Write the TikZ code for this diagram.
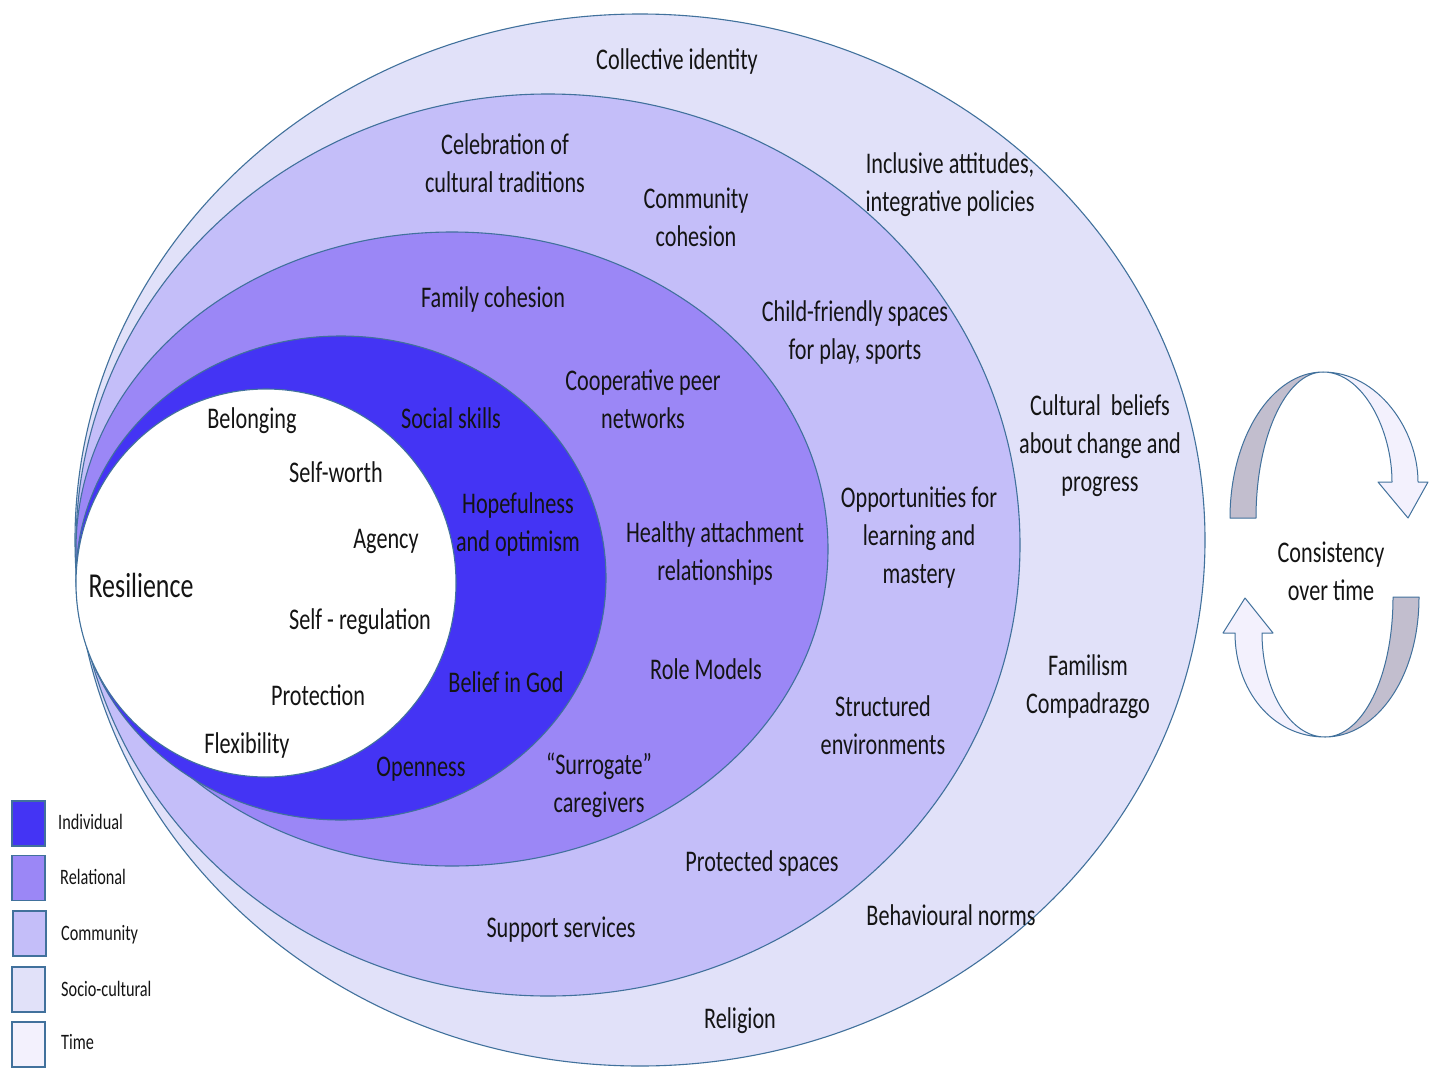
\documentclass[tikz,border=0pt]{standalone}
\usepackage{fontspec}
\setmainfont{Carlito}[FakeStretch=0.74]
\definecolor{indiv}{RGB}{68,52,244}
\definecolor{relat}{RGB}{155,135,246}
\definecolor{commu}{RGB}{196,190,249}
\definecolor{socio}{RGB}{225,225,249}
\definecolor{timec}{RGB}{243,241,253}
\definecolor{edge}{RGB}{65,113,156}
\definecolor{twist}{RGB}{194,190,206}
\definecolor{ink}{RGB}{20,20,20}

\begin{document}
\begin{tikzpicture}[x=1pt,y=-1pt,
  ring/.style={draw=edge,line width=1.1pt},
  lbl/.style={inner sep=0pt,align=center,text=ink,yshift=-2pt,font=\fontsize{30}{38}\selectfont},
  big/.style={inner sep=0pt,text=ink,yshift=-1pt,font=\fontsize{35}{42}\selectfont},
  keybox/.style={draw=edge,line width=1.2pt,minimum width=33pt,minimum height=45pt,inner sep=0pt},
  keytext/.style={anchor=west,inner sep=0pt,text=ink,font=\fontsize{22}{26}\selectfont},
  band/.style={draw=edge,line width=1pt,line join=round}]
\useasboundingbox (0,0) rectangle (1429,1068);
\fill[white] (0,0) rectangle (1429,1068);

% nested layers, outermost first
\draw[ring,fill=socio] (640,540) ellipse [x radius=565pt,y radius=526pt];
\draw[ring,fill=commu] (548,545) ellipse [x radius=472pt,y radius=451pt];
\draw[ring,fill=relat] (452,549) ellipse [x radius=376pt,y radius=317pt];
\draw[ring,fill=indiv] (341,578) ellipse [x radius=265pt,y radius=242pt];
\draw[ring,fill=white] (266,583) ellipse [x radius=190pt,y radius=194pt];

% socio-cultural layer
\node[lbl] (collective) at (677,60) {Collective identity};
\node[lbl] (inclusive) at (950,183) {Inclusive attitudes,\\integrative policies};
\node[lbl] (beliefs) at (1100,444) {Cultural\ \ beliefs\\about change and\\progress};
\node[lbl] (familism) at (1088,685) {Familism\\Compadrazgo};
\node[lbl] (norms) at (951,913) {Behavioural norms};
\node[lbl] (religion) at (740,1019) {Religion};

% community layer
\node[lbl] (celebration) at (505,161) {Celebration of\\cultural traditions};
\node[lbl] (cohesion) at (696,215) {Community\\cohesion};
\node[lbl] (childspaces) at (855,330) {Child-friendly spaces\\for play, sports};
\node[lbl] (opportunities) at (919,536) {Opportunities for\\learning and\\mastery};
\node[lbl] (structured) at (883,723) {Structured\\environments};
\node[lbl] (protected) at (762,861) {Protected spaces};
\node[lbl] (support) at (561,928) {Support services};

% relational layer
\node[lbl] (family) at (493,297) {Family cohesion};
\node[lbl] (peer) at (643,397) {Cooperative peer\\networks};
\node[lbl] (attachment) at (715,551) {Healthy attachment\\relationships};
\node[lbl] (rolemodels) at (706,667) {Role Models};
\node[lbl] (surrogate) at (599,783) {“Surrogate”\\caregivers};

% individual layer
\node[lbl] (social) at (451,416) {Social skills};
\node[lbl] (hope) at (518,522) {Hopefulness\\and optimism};
\node[lbl] (god) at (506,680) {Belief in God};
\node[lbl] (openness) at (421,767) {Openness};

% core
\node[big] (resilience) at (141,584) {Resilience};
\node[lbl] (belonging) at (252,419) {Belonging};
\node[lbl] (selfworth) at (336,470) {Self-worth};
\node[lbl] (agency) at (386,539) {Agency};
\node[lbl] (selfreg) at (360,620) {Self - regulation};
\node[lbl] (protection) at (318,693) {Protection};
\node[lbl] (flexibility) at (247,743) {Flexibility};

% cycle of two twisted arrows
\draw[band,fill=twist] (1230,518) .. controls (1230,437) and (1272,372) .. (1323,372)
  .. controls (1286,372) and (1256,437) .. (1256,518) -- cycle;
\draw[band,fill=timec] (1323,372) .. controls (1378,372) and (1418,430) .. (1418,482)
  -- (1428,482) -- (1408,518) -- (1378,482) -- (1392,482)
  .. controls (1392,430) and (1363,372) .. (1323,372) -- cycle;

\draw[band,fill=twist] (1419,597) .. controls (1419,678) and (1376,737) .. (1325,737)
  .. controls (1362,737) and (1393,678) .. (1393,597) -- cycle;
\draw[band,fill=timec] (1325,737) .. controls (1272,737) and (1235,690) .. (1235,633)
  -- (1223,633) -- (1245,598) -- (1273,633) -- (1262,633)
  .. controls (1262,690) and (1290,737) .. (1325,737) -- cycle;

\node[lbl] (consistency) at (1331,569) {Consistency\\over time};

% legend
\node[keybox,fill=indiv] (key1) at (28.5,823.5) {};
\node[keybox,fill=relat] (key2) at (28.5,878) {};
\node[keybox,fill=commu] (key3) at (29.5,933.5) {};
\node[keybox,fill=socio] (key4) at (28.5,989.5) {};
\node[keybox,fill=timec] (key5) at (28.5,1044.5) {};
\node[keytext] (keylab1) at (58,822) {Individual};
\node[keytext] (keylab2) at (60,877) {Relational};
\node[keytext] (keylab3) at (61,935) {Community};
\node[keytext] (keylab4) at (61,989) {Socio-cultural};
\node[keytext] (keylab5) at (61,1042) {Time};
\end{tikzpicture}
\end{document}
